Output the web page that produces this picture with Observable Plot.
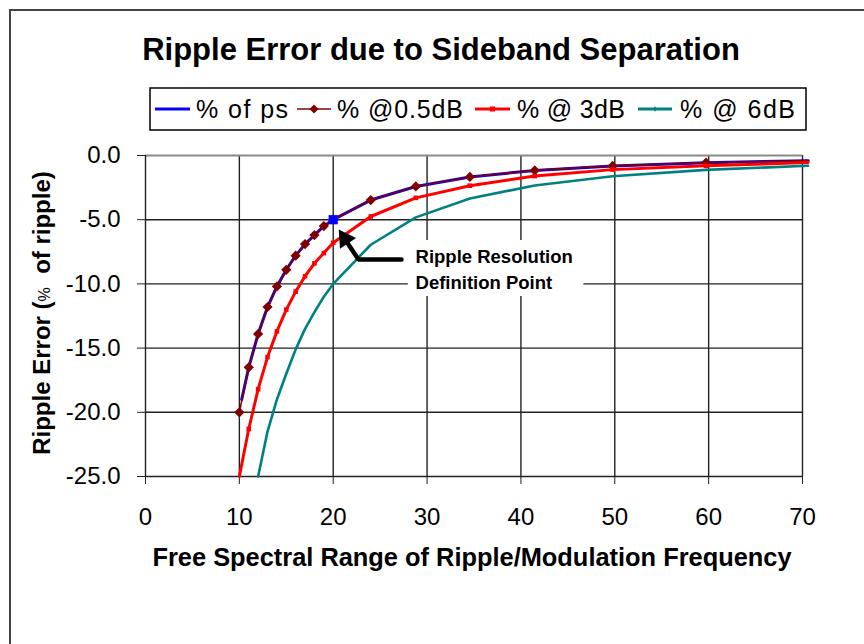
<!DOCTYPE html>
<html><head><meta charset="utf-8">
<script src="https://cdn.jsdelivr.net/npm/d3@7"></script>
<script src="https://cdn.jsdelivr.net/npm/@observablehq/plot@0.6"></script>
<style>html,body{margin:0;padding:0;background:#fff;} #chart{width:864px;height:644px;overflow:hidden;}</style>
</head><body><div id="chart"></div>
<script>
// ---- data ----
const xTicks = [0, 10, 20, 30, 40, 50, 60, 70];
const yTicks = [0, -5, -10, -15, -20, -25];

const psX = [10.25, 11, 12, 13, 14, 15, 16, 17, 18, 19, 20, 24, 28.8, 34.56, 41.47, 49.77, 59.72, 70.6];
const psY = [-19.0, -16.5, -13.9, -11.8, -10.2, -8.9, -7.8, -6.9, -6.2, -5.5, -5.0, -3.47, -2.41, -1.67, -1.16, -0.81, -0.56, -0.40];

const halfX = [10, 11, 12, 13, 14, 15, 16, 17, 18, 19, 20, 24, 28.8, 34.56, 41.47, 49.77, 59.72, 70.6];
const halfY = [-20.0, -16.5, -13.9, -11.8, -10.2, -8.9, -7.8, -6.9, -6.2, -5.5, -5.0, -3.47, -2.41, -1.67, -1.16, -0.81, -0.56, -0.40];

const db3X = [10, 11, 12, 13, 14, 15, 16, 17, 18, 19, 20, 24, 28.8, 34.56, 41.47, 49.77, 59.72, 70.6];
const db3Y = [-25.0, -21.3, -18.2, -15.7, -13.7, -12.0, -10.6, -9.4, -8.4, -7.6, -6.8, -4.75, -3.3, -2.35, -1.6, -1.1, -0.8, -0.55];

const db6X = [12, 13, 14, 15, 16, 17, 18, 19, 20, 24, 28.8, 34.56, 41.47, 49.77, 59.72, 70.6];
const db6Y = [-25.0, -21.5, -19.0, -17.0, -15.1, -13.5, -12.2, -11.0, -10.0, -6.95, -4.82, -3.35, -2.33, -1.62, -1.12, -0.80];

const seriesNames = ["% of ps", "% @0.5dB", "% @ 3dB", "% @ 6dB"];
const seriesColors = ["#0000ff", "#800000", "#ff0000", "#008080"];

const defPointX = [20];
const defPointY = [-5.0];

const noteLines = ["Ripple Resolution", "Definition Point"];
const noteX = [28.77, 28.77];
const noteY = [-8.41, -10.36];
const noteBoxX = [28.0, 46.7];
const noteBoxY = [-6.62, -10.98];
const arrowX = [27.27, 22.69, 21.5];
const arrowY = [-8.10, -8.10, -6.8];
const arrowHeadX = [21.25];
const arrowHeadY = [-6.48];

// ---- tables ----
const zipXY = (xs, ys) => xs.map((x, i) => ({x, y: ys[i]}));
const ps = zipXY(psX, psY);
const half = zipXY(halfX, halfY);
const db3 = zipXY(db3X, db3Y);
const db6 = zipXY(db6X, db6Y);
const defPt = zipXY(defPointX, defPointY);
const notes = noteLines.map((t, i) => ({t, x: noteX[i], y: noteY[i]}));
const arrow = zipXY(arrowX, arrowY);
const head = zipXY(arrowHeadX, arrowHeadY);

const FONT = "'Liberation Sans', Arial, Helvetica, sans-serif";
const grid = {stroke: "#222", strokeOpacity: 1, strokeWidth: 1.4};

const svg = Plot.plot({
  width: 864, height: 644,
  marginLeft: 145, marginRight: 62, marginTop: 155, marginBottom: 168,
  style: {fontFamily: FONT, background: "#fff", overflow: "visible", color: "#000"},
  x: {domain: [0, 70]},
  y: {domain: [-25, 0]},
  marks: [
    Plot.gridX(xTicks.filter(d => d > 0), grid),
    Plot.gridY(yTicks.filter(d => d < 0 && d > -25), grid),
    Plot.ruleY([0], {stroke: "#8a8a8a", strokeWidth: 2}),
    Plot.ruleY([-25], {stroke: "#222", strokeWidth: 1.4}),
    Plot.ruleX([0], {stroke: "#222", strokeWidth: 1.4}),
    Plot.axisX({ticks: xTicks, tickSize: 8, tickPadding: 23, fontSize: 24, label: null, tickFormat: d => String(d), stroke: "#222"}),
    Plot.axisY({ticks: yTicks, tickSize: 8, tickPadding: 17, fontSize: 24, label: null, tickFormat: d => d.toFixed(1), stroke: "#222"}),
    Plot.rect([{}], {x1: noteBoxX[0], x2: noteBoxX[1], y1: noteBoxY[0], y2: noteBoxY[1], fill: "#fff"}),
    Plot.line(ps, {x: "x", y: "y", stroke: seriesColors[0], strokeWidth: 3}),
    Plot.line(half, {x: "x", y: "y", stroke: seriesColors[1], strokeWidth: 1.6}),
    Plot.dot(half.filter(d => d.x <= 60), {x: "x", y: "y", symbol: "diamond2", r: 4.6, fill: seriesColors[1], stroke: "none"}),
    Plot.line(db3, {x: "x", y: "y", stroke: seriesColors[2], strokeWidth: 3}),
    Plot.dot(db3.filter(d => d.y > -25 && d.x <= 60), {x: "x", y: "y", symbol: "square", r: 2.6, fill: seriesColors[2], stroke: "none"}),
    Plot.line(db6, {x: "x", y: "y", stroke: seriesColors[3], strokeWidth: 2.6}),
    Plot.dot(db6.filter(d => d.y > -25 && d.x <= 60), {x: "x", y: "y", symbol: "plus", r: 2, fill: seriesColors[3], stroke: "none"}),
    Plot.dot(defPt, {x: "x", y: "y", symbol: "square", r: 5.2, fill: seriesColors[0], stroke: "none"}),
    Plot.line(arrow, {x: "x", y: "y", stroke: "#000", strokeWidth: 4.5, strokeLinejoin: "miter"}),
    Plot.dot(head, {x: "x", y: "y", symbol: "triangle", r: 7.2, fill: "#000", stroke: "none", rotate: -33.7}),
    Plot.text(notes, {x: "x", y: "y", text: "t", textAnchor: "start", lineAnchor: "bottom", fontSize: 18.5, fontWeight: "bold", fill: "#000"})
  ]
});

const s = d3.select(svg);
// outer chart-area frame
s.append("rect").attr("x", 10).attr("y", 10).attr("width", 900).attr("height", 700)
  .attr("fill", "none").attr("stroke", "#444").attr("stroke-width", 2);
// title
s.append("text").attr("x", 441).attr("y", 60).attr("text-anchor", "middle")
  .attr("font-family", FONT).attr("font-size", 31).attr("font-weight", "bold").attr("fill", "#000")
  .text("Ripple Error due to Sideband Separation");
// y label
const yl = s.append("text").attr("transform", "translate(50,313) rotate(-90)").attr("text-anchor", "middle")
  .attr("font-family", FONT).attr("font-size", 24).attr("font-weight", "bold").attr("fill", "#000");
yl.append("tspan").text("Ripple Error (");
yl.append("tspan").attr("font-size", 16).attr("font-weight", "normal").text("%");
yl.append("tspan").text("  of ripple)");
// x label
s.append("text").attr("x", 472).attr("y", 566).attr("text-anchor", "middle")
  .attr("font-family", FONT).attr("font-size", 25.4).attr("font-weight", "bold").attr("fill", "#000")
  .text("Free Spectral Range of Ripple/Modulation Frequency");
// legend
const lg = s.append("g");
lg.append("rect").attr("x", 150).attr("y", 88).attr("width", 656).attr("height", 42)
  .attr("fill", "#fff").attr("stroke", "#000").attr("stroke-width", 1.5);
const items = [
  {x0: 155, x1: 190, tx: 196, tw: 92, sym: null},
  {x0: 297, x1: 331, tx: 337, tw: 126, sym: "diamond"},
  {x0: 475, x1: 510, tx: 517, tw: 108, sym: "square"},
  {x0: 638, x1: 672, tx: 680, tw: 115, sym: "plus"}
];
items.forEach((it, i) => {
  const c = seriesColors[i];
  lg.append("line").attr("x1", it.x0).attr("x2", it.x1).attr("y1", 109).attr("y2", 109)
    .attr("stroke", c).attr("stroke-width", i === 1 ? 1.6 : 3);
  const cx = (it.x0 + it.x1) / 2;
  if (it.sym === "diamond") lg.append("path").attr("d", `M${cx},${104.5}L${cx+4.5},109L${cx},${113.5}L${cx-4.5},109Z`).attr("fill", c);
  if (it.sym === "square") lg.append("rect").attr("x", cx - 2.5).attr("y", 106.5).attr("width", 5).attr("height", 5).attr("fill", c);
  if (it.sym === "plus") lg.append("path").attr("d", d3.symbol(d3.symbolCross, 12)()).attr("transform", `translate(${cx},109)`).attr("fill", c);
  lg.append("text").attr("x", it.tx).attr("y", 118).attr("text-anchor", "start")
    .attr("font-family", FONT).attr("font-size", 25)
    .attr("textLength", it.tw).attr("lengthAdjust", "spacing")
    .attr("fill", "#000").text(seriesNames[i]);
});

document.getElementById("chart").appendChild(svg);
</script>
</body></html>
